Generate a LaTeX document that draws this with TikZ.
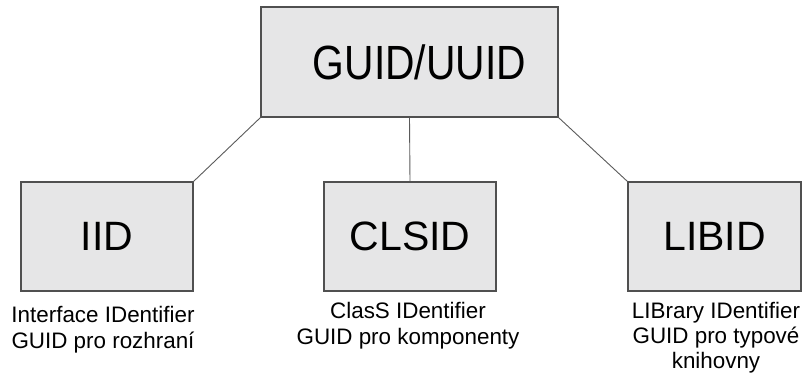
\documentclass[tikz,border=0pt]{standalone}
\usepackage{fontspec}
\setmainfont{Liberation Sans}
\newfontfamily\narrowsans[FakeStretch=0.85]{Liberation Sans}
\definecolor{boxfill}{HTML}{E6E6E7}
\definecolor{boxline}{HTML}{505050}
\definecolor{linkline}{HTML}{5A5A5A}
\begin{document}
\begin{tikzpicture}[x=1pt,y=1pt,
  idbox/.style={draw=boxline, fill=boxfill, line width=1.1pt, inner sep=0pt,
    minimum width=172pt, minimum height=109pt, font=\fontsize{41}{41}\selectfont},
  caption/.style={anchor=north, inner sep=0pt, align=center,
    font=\fontsize{22.4}{26}\selectfont},
  link/.style={draw=linkline, line width=0.9pt}]
  \useasboundingbox (0,0) rectangle (804,373);

  % root and the three kinds of identifiers
  \node[idbox, minimum width=297pt, minimum height=110pt,
        font=\narrowsans\fontsize{48}{48}\selectfont] (guid) at (409.5,311)
        {\hspace*{20pt}\raisebox{-3.5pt}{GUID/UUID}};
  \node[idbox] (iid)   at (107,136.5)   {IID};
  \node[idbox] (clsid) at (410,136.5)   {CLSID};
  \node[idbox, minimum width=173pt] (libid) at (714.5,136.5) {LIBID};

  % connectors
  \draw[link] (guid.south west) -- (iid.north east);
  \draw[link] (guid.south) -- (clsid.north);
  \draw[link] (guid.south east) -- (libid.north west);

  % descriptions
  \node[caption] (iidtxt)   at (103,66.5) {Interface IDentifier\\GUID pro rozhraní};
  \node[caption] (clsidtxt) at (408,70.5) {ClasS IDentifier\\GUID pro komponenty};
  \node[caption, font=\fontsize{22.4}{25}\selectfont] (libidtxt) at (716,70.5)
        {LIBrary IDentifier\\GUID pro typové\\knihovny};
\end{tikzpicture}
\end{document}
